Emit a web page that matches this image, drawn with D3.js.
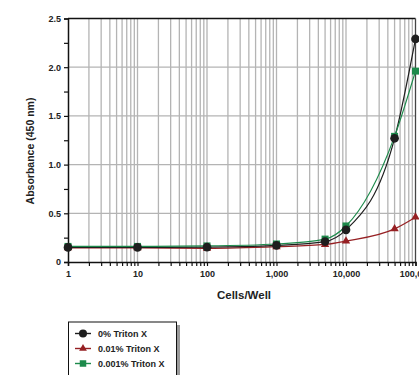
<!DOCTYPE html>
<html><head><meta charset="utf-8">
<script src="https://cdn.jsdelivr.net/npm/d3@7"></script>
<style>
html,body{margin:0;padding:0;background:#fff;overflow:hidden;}
svg{display:block;font-family:"Liberation Sans",Arial,Helvetica,sans-serif;}
</style></head>
<body>
<svg id="chart" width="419" height="375"></svg>
<script>
const cellsPerWell = [1, 10, 100, 1000, 5000, 10000, 50000, 100000];
const seriesNames = ["0% Triton X", "0.01% Triton X", "0.001% Triton X"];
const triton0 = [0.15, 0.15, 0.152, 0.17, 0.21, 0.33, 1.27, 2.29];
const triton001 = [0.145, 0.145, 0.14, 0.157, 0.18, 0.215, 0.34, 0.46];
const triton0001 = [0.16, 0.16, 0.165, 0.185, 0.235, 0.37, 1.29, 1.96];
const xTickValues = [1, 10, 100, 1000, 10000, 100000];
const xTickLabels = ["1", "10", "100", "1,000", "10,000", "100,000"];
const yTickValues = [0, 0.5, 1.0, 1.5, 2.0, 2.5];
const yTickLabels = ["0", "0.5", "1.0", "1.5", "2.0", "2.5"];

const colors = ["#1e1e1e", "#962023", "#1d8a4b"];
const seriesValues = [triton0, triton001, triton0001];
const shapes = ["circle", "triangle", "square"];

const svg = d3.select("#chart");
const x = d3.scaleLog().domain([1, 100000]).range([68, 415.5]);
const y = d3.scaleLinear().domain([0, 2.5]).range([262, 18.5]);

// grid
const minor = [];
for (let d = 1; d < 100000; d *= 10) for (let k = 1; k <= 9; k++) minor.push(d * k);
minor.push(100000);
const g = svg.append("g");
g.selectAll(".vg").data(minor.filter(v => v > 1 && v < 100000)).enter().append("line")
  .attr("x1", d => x(d)).attr("x2", d => x(d)).attr("y1", y(2.5)).attr("y2", y(0))
  .attr("stroke", "#b4b4b4").attr("stroke-width", 1.3);
g.selectAll(".hg").data([0.5, 1.0, 1.5, 2.0]).enter().append("line")
  .attr("x1", x(1)).attr("x2", x(100000)).attr("y1", d => y(d)).attr("y2", d => y(d))
  .attr("stroke", "#b4b4b4").attr("stroke-width", 1.3);
// top and right borders
g.append("line").attr("x1", x(1)).attr("x2", x(100000)).attr("y1", y(2.5)).attr("y2", y(2.5))
  .attr("stroke", "#111").attr("stroke-width", 1.3);
g.append("line").attr("x1", x(100000)).attr("x2", x(100000)).attr("y1", y(2.5)).attr("y2", y(0))
  .attr("stroke", "#444").attr("stroke-width", 1.3);

// x axis
const xAxis = d3.axisBottom(x).tickValues(minor).tickSize(4)
  .tickFormat(d => { const i = xTickValues.indexOf(d); return i >= 0 ? xTickLabels[i] : ""; });
const xa = svg.append("g").attr("transform", `translate(0,${y(0)})`).call(xAxis);
xa.select(".domain").attr("stroke", "#111").attr("stroke-width", 1.5);
xa.selectAll(".tick line").attr("stroke", "#111").attr("stroke-width", 1.2);
xa.selectAll(".tick text").attr("font-size", "9px").attr("font-weight", "bold").attr("fill", "#222").attr("dy", "0.9em");

// y axis
const yMinor = d3.range(0, 2.51, 0.25);
const yAxis = d3.axisLeft(y).tickValues(yMinor).tickSize(4)
  .tickFormat(d => { const i = yTickValues.findIndex(v => Math.abs(v - d) < 1e-9); return i >= 0 ? yTickLabels[i] : ""; });
const ya = svg.append("g").attr("transform", `translate(${x(1)},0)`).call(yAxis);
ya.select(".domain").attr("stroke", "#111").attr("stroke-width", 1.5);
ya.selectAll(".tick line").attr("stroke", "#111").attr("stroke-width", 1.2);
ya.selectAll(".tick text").attr("font-size", "9px").attr("font-weight", "bold").attr("fill", "#222").attr("x", -7);

// axis titles
svg.append("text").attr("x", 244).attr("y", 299).attr("text-anchor", "middle")
  .attr("font-size", "11.5px").attr("font-weight", "bold").attr("fill", "#222").text("Cells/Well");
svg.append("text").attr("transform", "translate(34,151) rotate(-90)").attr("text-anchor", "middle")
  .attr("font-size", "10.5px").attr("font-weight", "bold").attr("fill", "#222").text("Absorbance (450 nm)");

// lines
const line = d3.line().x(d => x(d[0])).y(d => y(d[1])).curve(d3.curveMonotoneX);
function marker(sel, shape, color, size) {
  if (shape === "circle") sel.append("circle").attr("r", size * 0.62).attr("fill", color);
  else if (shape === "square") sel.append("rect").attr("x", -size / 2).attr("y", -size / 2).attr("width", size).attr("height", size).attr("fill", color);
  else sel.append("path").attr("d", d3.symbol(d3.symbolTriangle, size * size * 0.62)()).attr("fill", color);
}
const order = [1, 0, 2];
order.forEach(si => {
  const pts = cellsPerWell.map((c, i) => [c, seriesValues[si][i]]);
  svg.append("path").datum(pts).attr("d", line).attr("fill", "none")
    .attr("stroke", colors[si]).attr("stroke-width", 1.2);
});
[2, 1, 0].forEach(si => {
  const pts = cellsPerWell.map((c, i) => [c, seriesValues[si][i]]);
  pts.forEach(p => {
    const m = svg.append("g").attr("transform", `translate(${x(p[0])},${y(p[1])})`);
    marker(m, shapes[si], colors[si], 7);
  });
});

// legend
const lg = svg.append("g");
lg.append("rect").attr("x", 71).attr("y", 325).attr("width", 109).attr("height", 60).attr("fill", "#9a9a9a");
lg.append("rect").attr("x", 68.5).attr("y", 322).attr("width", 108).attr("height", 60).attr("fill", "#fff")
  .attr("stroke", "#111").attr("stroke-width", 1);
seriesNames.forEach((n, i) => {
  const cy = 333.5 + i * 15;
  lg.append("line").attr("x1", 75).attr("x2", 91).attr("y1", cy).attr("y2", cy).attr("stroke", colors[i]).attr("stroke-width", 1.4);
  const m = lg.append("g").attr("transform", `translate(83,${cy})`);
  marker(m, shapes[i], colors[i], 6.5);
  lg.append("text").attr("x", 98).attr("y", cy).attr("dy", "0.35em").attr("font-size", "9px")
    .attr("font-weight", "bold").attr("fill", "#222").text(n);
});
</script>
</body></html>
